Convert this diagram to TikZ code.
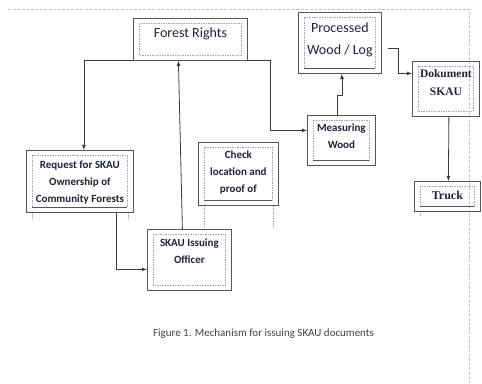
\documentclass[tikz,border=0pt]{standalone}
\usepackage{fontspec}
\setmainfont{Carlito}
\newfontfamily\timesb{Liberation Serif}
\usepackage{tikz}

\definecolor{boxgray}{HTML}{555555}
\definecolor{linegray}{HTML}{3A3A3A}
\definecolor{inkblue}{HTML}{1E2238}

\begin{document}
\begin{tikzpicture}[x=1pt, y=-1pt, >=latex, thick,
  box/.style = {draw=boxgray, line width=0.8pt, inner sep=0pt, align=center, anchor=north west, text=inkblue,
    path picture={\draw[inner] ([shift={(6pt,-5pt)}]path picture bounding box.north west) rectangle ([shift={(-6pt,5pt)}]path picture bounding box.south east);}},
  based/.style = {box,
    path picture={\draw[inner] ([shift={(6pt,-5pt)}]path picture bounding box.north west) rectangle ([shift={(-6pt,5pt)}]path picture bounding box.south east);
      \draw[boxgray, line width=0.6pt] ([shift={(6pt,5pt)}]path picture bounding box.south west) -- ([shift={(-6pt,5pt)}]path picture bounding box.south east);}},
  inner/.style = {gray!70, line width=0.5pt, dash pattern=on 1.5pt off 1pt},
  page/.style = {gray!45, line width=1pt, dash pattern=on 3pt off 1.5pt},
  link/.style = {->, draw=linegray, line width=0.8pt},
  small/.style = {font=\fontsize{11}{17}\selectfont\bfseries},
  large/.style = {font=\fontsize{14}{22}\selectfont}]
\useasboundingbox (0,0) rectangle (482,383);

% page edge
\draw[page] (8,9) -- (469,9) -- (469,383);

\node[box, large, minimum width=114pt, text height=19.5pt, text depth=22.5pt] (fr) at (133,18) {Forest Rights};
\node[based, large, minimum width=83pt, text height=42pt, text depth=19pt] (pw) at (298,12) {Processed\\Wood / Log};
\node[box, font=\timesb\fontsize{11.5}{18}\selectfont\bfseries, minimum width=67pt, text height=34pt, text depth=21pt] (dk) at (412,61) {Dokument\\SKAU};
\node[based, small, minimum width=68pt, text height=33.5pt, text depth=16.5pt] (mw) at (307,115) {Measuring\\Wood};
\node[based, small, minimum width=80pt, text height=50.5pt, text depth=12.5pt] (ck) at (198,142) {Check\\location and\\proof of};
\node[based, small, minimum width=107pt, text height=52.5pt, text depth=9.5pt] (rq) at (26,150) {Request for SKAU\\Ownership of\\Community Forests};
\node[box, small, minimum width=84pt, text height=34pt, text depth=27pt] (so) at (147,229) {SKAU Issuing\\Officer};
\node[based, font=\timesb\fontsize{12}{14}\selectfont\bfseries, minimum width=66pt, text height=18pt, text depth=12pt] (tr) at (414,181) {Truck};

% loose text-box edges below the boxes
\draw[inner] ([xshift=6pt]ck.south west) -- ++(0,22);
\draw[inner] ([xshift=-6pt]ck.south east) -- ++(0,22);
\draw[inner] ([xshift=6pt]rq.south west) -- ++(0,6);
\draw[inner] ([xshift=-6pt]rq.south east) -- ++(0,6);
\draw[inner] ([xshift=6pt]tr.south west) -- ++(0,5);

\draw[link] (fr.south west) -| ([xshift=4pt]rq.north);
\draw[link] (fr.south east) -- ++(23,0) |- ([yshift=10pt]mw.west);
\draw[link] ([xshift=-17pt]rq.south east) |- ([yshift=-9.5pt]so.west);
\draw[link] ([xshift=-7pt]so.north) -- ([xshift=-12pt]fr.south);
\draw[link] ([xshift=-4pt]mw.north) -- ++(0,-20) -| ([xshift=2pt]pw.south);
\draw[link] ([shift={(6pt,-5.5pt)}]pw.east) -- ++(11,0) |- ([yshift=15.5pt]dk.west);
\draw[link] ([xshift=3pt]dk.south) -- ([xshift=1pt]tr.north);

\node[font=\fontsize{11}{13}\selectfont, text=black!75] (cap) at (263.5,334) {Figure 1. Mechanism for issuing SKAU documents};
\end{tikzpicture}
\end{document}
